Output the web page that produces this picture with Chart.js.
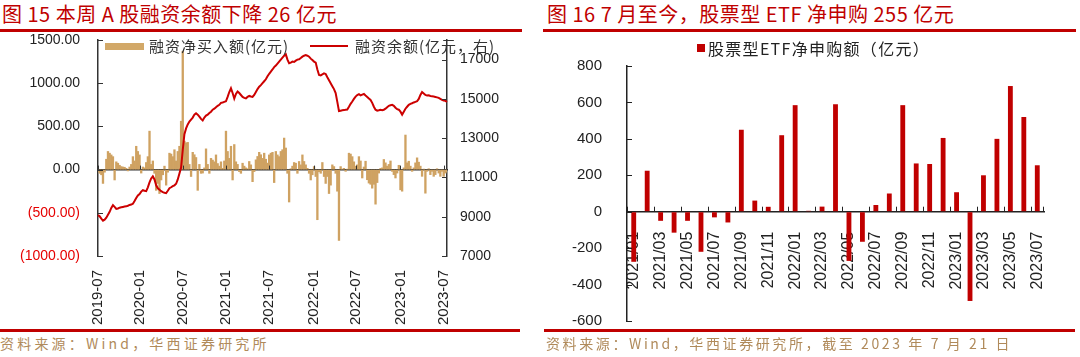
<!DOCTYPE html>
<html><head><meta charset="utf-8">
<script src="https://cdn.jsdelivr.net/npm/chart.js@4.4.0/dist/chart.umd.min.js"></script>
<style>
html,body{margin:0;padding:0;background:#fff;}
body{width:1080px;height:357px;position:relative;overflow:hidden;font-family:"Noto Sans CJK SC",sans-serif;}
.title{position:absolute;top:2px;font-size:20px;color:#C00000;white-space:nowrap;line-height:24px;letter-spacing:0.5px;}
.rule{position:absolute;height:3px;background:#C00000;}
.src{position:absolute;top:334px;font-size:14px;color:#B08A5A;white-space:nowrap;letter-spacing:2.6px;line-height:18px;}
.box{position:absolute;}
.leg{position:absolute;font-size:15px;color:#333;white-space:nowrap;line-height:18px;letter-spacing:1px;}
</style></head>
<body>
<div class="title" style="left:2px">图 15 本周 A 股融资余额下降 26 亿元</div>
<div class="title" style="left:547px">图 16 7 月至今，股票型 ETF 净申购 255 亿元</div>
<div class="rule" style="left:0;top:29px;width:522px"></div>
<div class="rule" style="left:543px;top:29px;width:533px"></div>
<div class="box" style="left:0;top:28px;width:530px;height:300px"><canvas id="cv1"></canvas></div>
<div class="box" style="left:545px;top:28px;width:535px;height:304px"><canvas id="cv2"></canvas></div>
<div class="box" style="left:105px;top:43px;width:39px;height:7px;background:#D2A868"></div>
<div class="leg" style="left:149px;top:37px">融资净买入额(亿元)</div>
<div class="box" style="left:310px;top:45px;width:38px;height:2px;background:#CC0000"></div>
<div class="leg" style="left:355px;top:37px">融资余额(亿元，右)</div>
<div class="box" style="left:697px;top:44px;width:8px;height:8px;background:#C00000"></div>
<div class="leg" style="left:708px;top:39px;font-size:16px;color:#222;letter-spacing:1.3px">股票型ETF净申购额（亿元）</div>
<div class="rule" style="left:0;top:329px;width:520px"></div>
<div class="rule" style="left:544px;top:329px;width:531px"></div>
<div class="src" style="left:0;letter-spacing:3.2px">资料来源：Wind，华西证券研究所</div>
<div class="src" style="left:546px">资料来源：Wind，华西证券研究所，截至 2023 年 7 月 21 日</div>
<script>
// ---------- Figure 15 data (weekly, from 2019-07-12) ----------
const halfYearTicks = ['2019-07','2020-01','2020-07','2021-01','2021-07','2022-01','2022-07','2023-01','2023-07'];
const leftTicks = [-1000, -500, 0, 500, 1000, 1500];
const rightTicks = [7000, 9000, 11000, 13000, 15000, 17000];
const netBuy = [
 -20,-43,-60,-160,-30,120,210,190,170,150,
 -120,90,74,50,35,30,27,15,-15,30,
 60,150,100,270,210,170,-40,30,20,82,
 150,445,60,100,-43,-240,-160,-277,-120,-60,
 40,-180,-30,190,180,150,230,100,210,270,
 560,1370,330,310,315,60,-80,200,172,140,
 -240,60,-43,-40,20,240,60,-43,130,110,
 90,170,70,40,90,15,100,445,210,130,
 270,-120,290,90,60,-23,-43,74,40,20,
 10,94,55,-140,-23,113,152,200,172,130,
 190,120,75,170,190,200,-150,210,170,150,
 210,230,365,250,-43,-375,10,40,82,74,
 -43,94,55,170,94,55,15,-43,-120,-60,
 35,-80,-580,-25,-43,82,-80,-160,-80,-277,
 -180,55,35,-43,-250,-820,35,5,15,-20,
 5,190,180,150,90,40,55,150,100,-97,
 30,97,-117,-156,-170,-215,-170,-400,-150,-40,
 15,20,117,78,40,60,100,-20,-58,-97,
 -40,50,-234,-250,20,400,78,97,40,-20,
 20,78,136,86,40,-78,5,-273,-20,10,
 -58,-20,-78,-58,10,-40,-78,-20,-78,-40,
 -26
];
const marginBalance = [
 9080,9020,8900,8800,8850,8950,9100,9250,9450,9590,
 9500,9400,9420,9460,9480,9500,9520,9530,9560,9600,
 9620,9660,9800,9950,10080,10150,10280,10350,10320,10300,
 10500,10750,10950,11060,10900,10600,10450,10380,10300,10250,
 10220,10200,10320,10450,10500,10560,10600,10680,10900,11200,
 11500,12400,13200,13500,13700,13850,13950,14050,14200,14270,
 14200,14100,13980,13900,14050,14150,14200,14280,14350,14450,
 14500,14580,14650,14700,14800,14820,14850,14880,15100,15350,
 15540,15300,15020,15250,15380,15300,15200,15100,15050,15030,
 15100,15150,15120,15100,15200,15350,15500,15620,15700,15800,
 15900,16000,16150,16280,16390,16500,16620,16700,16800,16900,
 17000,17100,17200,17270,17000,16820,16850,16900,16880,16950,
 17000,17020,17080,17150,17200,17230,17200,17150,17050,16980,
 16900,16850,16500,16220,16200,16250,16300,16270,16100,15950,
 15800,15650,15500,15300,14850,14380,14400,14420,14430,14450,
 14460,14600,14750,14870,15000,15120,15200,15240,15180,15220,
 15250,15170,15100,15020,14950,14800,14600,14450,14400,14420,
 14450,14430,14450,14500,14580,14650,14680,14700,14650,14550,
 14480,14450,14350,14200,14350,14500,14600,14700,14750,14780,
 14820,14850,14880,15000,15200,15350,15280,15200,15170,15180,
 15150,15130,15120,15100,15080,15050,15000,14950,14920,14900,
 14850
];
const weeks = netBuy.map((_, i) => new Date(Date.UTC(2019, 6, 12) + i * 7 * 86400000).toISOString().slice(0, 10));
function halfYearLabel(i) {
  const m = weeks[i].slice(0, 7);
  const prev = i > 0 ? weeks[i - 1].slice(0, 7) : null;
  return (halfYearTicks.includes(m) && m !== prev) ? m : null;
}

// ---------- Figure 16 data ----------
const etfMonths = ['2021/01','2021/02','2021/03','2021/04','2021/05','2021/06','2021/07','2021/08','2021/09','2021/10','2021/11','2021/12',
  '2022/01','2022/02','2022/03','2022/04','2022/05','2022/06','2022/07','2022/08','2022/09','2022/10','2022/11','2022/12',
  '2023/01','2023/02','2023/03','2023/04','2023/05','2023/06','2023/07'];
const etfNet = [-275,225,-50,-115,-50,-220,-31,-59,450,61,27,420,
  585,5,28,590,-270,-165,37,100,585,265,262,405,
  107,-490,200,400,690,520,255];
const etfTicks = [-600,-400,-200,0,200,400,600,800];

const tickFont = {family: 'Liberation Sans, Arial, sans-serif', size: 14};
const axisColor = '#333';
const hiddenTicks = len => ({display: true, drawOnChartArea: false, drawTicks: true, tickLength: len, color: 'rgba(0,0,0,0)'});

const ticks1 = {
  id: 'ticks1',
  afterDatasetsDraw(chart) {
    const {ctx, chartArea: ca, scales} = chart;
    ctx.save();
    ctx.strokeStyle = axisColor; ctx.lineWidth = 1;
    scales.y.ticks.forEach(t => {
      const y = Math.round(scales.y.getPixelForValue(t.value)) + 0.5;
      ctx.beginPath(); ctx.moveTo(ca.left, y); ctx.lineTo(ca.left + 5, y); ctx.stroke();
    });
    scales.y2.ticks.forEach(t => {
      const y = Math.round(scales.y2.getPixelForValue(t.value)) + 0.5;
      ctx.beginPath(); ctx.moveTo(ca.right - 5, y); ctx.lineTo(ca.right, y); ctx.stroke();
    });
    const y0 = scales.y.getPixelForValue(0);
    weeks.forEach((w, i) => {
      if (!halfYearLabel(i)) return;
      const x = Math.round(scales.x.getPixelForValue(i)) + 0.5;
      ctx.beginPath(); ctx.moveTo(x, y0 - 4); ctx.lineTo(x, y0); ctx.stroke();
    });
    ctx.restore();
  }
};

new Chart(document.getElementById('cv1'), {
  type: 'bar',
  data: {
    labels: weeks,
    datasets: [
      {type: 'line', label: '融资余额(亿元，右)', data: marginBalance, yAxisID: 'y2', borderColor: '#CC0000', borderWidth: 2, pointRadius: 0, tension: 0, order: 0},
      {type: 'bar', label: '融资净买入额(亿元)', data: netBuy, yAxisID: 'y', backgroundColor: '#CFA262', barPercentage: 1, categoryPercentage: 1, order: 1}
    ]
  },
  options: {
    responsive: true, maintainAspectRatio: false, animation: false,
    layout: {padding: {top: 12, left: 0, right: 0, bottom: 0}},
    plugins: {legend: {display: false}, tooltip: {enabled: false}},
    scales: {
      x: {type: 'category', position: 'bottom', offset: false, grid: {display: false}, border: {display: false},
        ticks: {autoSkip: false, maxRotation: 90, minRotation: 90, padding: 6, color: '#222', font: {family: tickFont.family, size: 15},
          callback: (v, i) => halfYearLabel(i)},
        afterFit: s => { s.height = 72; }},
      x2: {type: 'category', position: {y: 0}, offset: false, grid: {display: false}, border: {display: true, color: axisColor, width: 1.5}, ticks: {display: false}},
      y: {position: 'left', min: -1000, max: 1500,
        afterBuildTicks: s => { s.ticks = leftTicks.map(v => ({value: v})); },
        ticks: {padding: 2, font: tickFont, color: c => (c.tick && c.tick.value < 0) ? '#E60000' : '#222',
          callback: v => v < 0 ? '(' + Math.abs(v).toFixed(2) + ')' : v.toFixed(2)},
        grid: hiddenTicks(16), border: {color: axisColor, width: 1.5},
        afterFit: s => { s.width = 98; }},
      y2: {position: 'right', min: 7000, max: 18000,
        afterBuildTicks: s => { s.ticks = rightTicks.map(v => ({value: v})); },
        ticks: {padding: 2, font: tickFont, color: '#222', callback: v => String(v)},
        grid: hiddenTicks(11), border: {color: axisColor, width: 1.5},
        afterFit: s => { s.width = 83; }}
    }
  },
  plugins: [ticks1]
});

const ticks2 = {
  id: 'ticks2',
  afterDatasetsDraw(chart) {
    const {ctx, chartArea: ca, scales} = chart;
    ctx.save();
    ctx.strokeStyle = '#222'; ctx.lineWidth = 1;
    scales.y.ticks.forEach(t => {
      const y = Math.round(scales.y.getPixelForValue(t.value)) + 0.5;
      ctx.beginPath(); ctx.moveTo(ca.left, y); ctx.lineTo(ca.left + 5, y); ctx.stroke();
    });
    const y0 = scales.y.getPixelForValue(0);
    const half = (scales.x.getPixelForValue(1) - scales.x.getPixelForValue(0)) / 2;
    etfMonths.forEach((m, i) => {
      if (i % 2 !== 0) return;
      const x = Math.round(scales.x.getPixelForValue(i) - half) + 0.5;
      ctx.beginPath(); ctx.moveTo(x, y0 - 5); ctx.lineTo(x, y0); ctx.stroke();
    });
    ctx.beginPath(); ctx.moveTo(ca.right - 0.5, y0 - 5); ctx.lineTo(ca.right - 0.5, y0); ctx.stroke();
    ctx.restore();
  }
};

new Chart(document.getElementById('cv2'), {
  type: 'bar',
  data: {
    labels: etfMonths,
    datasets: [{label: '股票型ETF净申购额（亿元）', data: etfNet, backgroundColor: '#C00000', barPercentage: 0.36, categoryPercentage: 1}]
  },
  options: {
    responsive: true, maintainAspectRatio: false, animation: false,
    layout: {padding: {top: 38, right: 36, bottom: 11, left: 0}},
    plugins: {legend: {display: false}, tooltip: {enabled: false}},
    scales: {
      x: {position: {y: 0}, z: 1, grid: {display: false}, border: {color: '#222', width: 1.5},
        ticks: {autoSkip: false, maxRotation: 90, minRotation: 90, padding: 12, color: '#222', font: {family: tickFont.family, size: 16},
          callback: (v, i) => i % 2 === 0 ? etfMonths[i] : ''}},
      y: {min: -600, max: 800,
        afterBuildTicks: s => { s.ticks = etfTicks.map(v => ({value: v})); },
        ticks: {padding: 2, color: '#222', font: {family: tickFont.family, size: 15}},
        grid: hiddenTicks(23), border: {color: '#222', width: 1.5},
        afterFit: s => { s.width = 82; }}
    }
  },
  plugins: [ticks2]
});
</script>
</body></html>
